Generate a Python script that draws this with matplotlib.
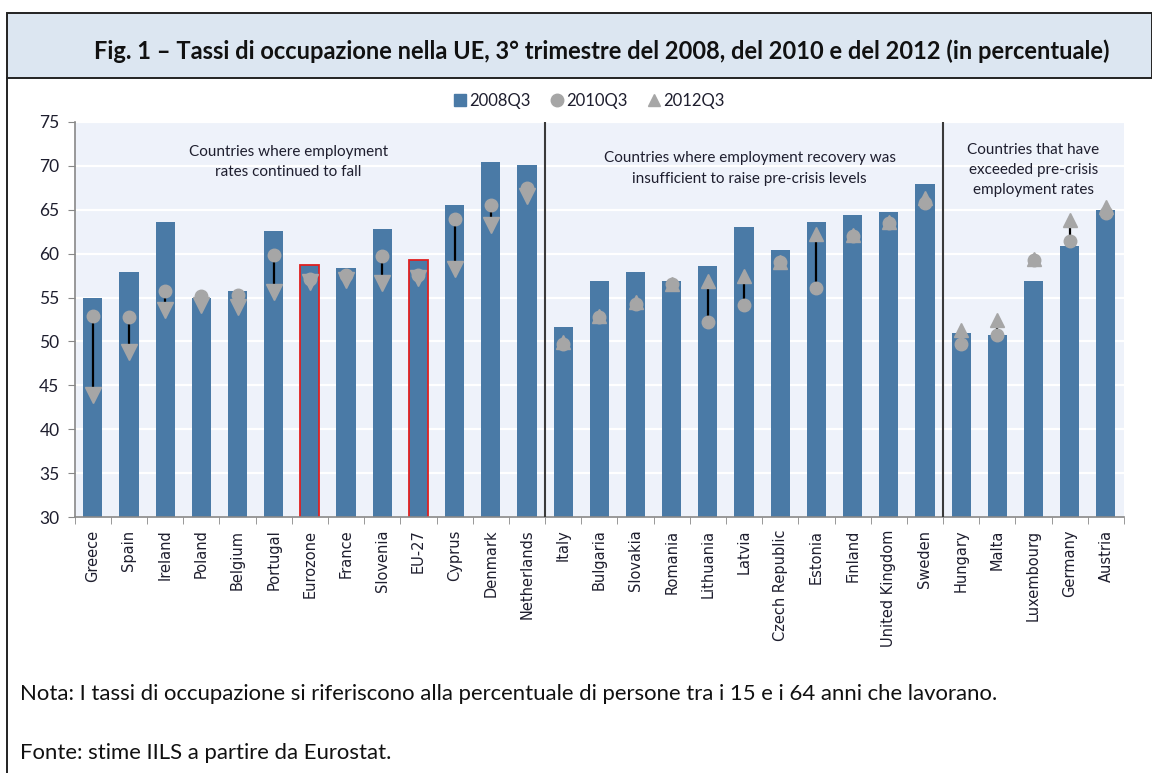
import matplotlib

matplotlib.use("Agg")
import matplotlib.pyplot as plt
from matplotlib.lines import Line2D
from matplotlib.patches import Rectangle

# employment rates, 15-64, by country (percent)
countries = [
    "Greece", "Spain", "Ireland", "Poland", "Belgium", "Portugal", "Eurozone",
    "France", "Slovenia", "EU-27", "Cyprus", "Denmark", "Netherlands",
    "Italy", "Bulgaria", "Slovakia", "Romania", "Lithuania", "Latvia",
    "Czech Republic", "Estonia", "Finland", "United Kingdom", "Sweden",
    "Hungary", "Malta", "Luxembourg", "Germany", "Austria",
]
rate_2008 = [
    55.0, 57.9, 63.6, 54.9, 55.8, 62.6, 58.7, 58.4, 62.8, 59.25, 65.5, 70.4, 70.1,
    51.7, 56.9, 57.9, 56.9, 58.6, 63.0, 60.4, 63.6, 64.4, 64.8, 67.9,
    50.95, 50.7, 56.9, 60.9, 65.0,
]
rate_2010 = [
    52.9, 52.8, 55.7, 55.2, 55.3, 59.9, 57.1, 57.6, 59.7, 57.6, 64.0, 65.5, 67.5,
    49.75, 52.8, 54.3, 56.5, 52.2, 54.2, 59.0, 56.1, 62.0, 63.5, 65.8,
    49.75, 50.7, 59.25, 61.5, 64.6,
]
rate_2012 = [
    43.9, 48.8, 53.6, 54.1, 53.9, 55.6, 56.8, 57.0, 56.7, 57.2, 58.3, 63.3, 66.6,
    49.9, 52.9, 54.5, 56.6, 56.85, 57.45, 59.1, 62.2, 62.1, 63.6, 66.35,
    51.3, 52.4, 59.4, 63.8, 65.3,
]
highlighted = ["Eurozone", "EU-27"]
group_sizes = [13, 11, 5]
group_notes = [
    "Countries where employment\nrates continued to fall",
    "Countries where employment recovery was\ninsufficient to raise pre-crisis levels",
    "Countries that have\nexceeded pre-crisis\nemployment rates",
]

BAR = "#4a7aa6"
MARK = "#a6a6a6"
TXT = "#1e1e2e"
UI = "Lato"

fig = plt.figure(figsize=(11.52, 7.73), dpi=100)

# header band and frame
fig.patches.append(Rectangle((7 / 1152, 1 - 78 / 773), 1 - 7 / 1152, 65 / 773,
                             transform=fig.transFigure, facecolor="#dce6f1",
                             edgecolor="#222222", linewidth=1.4, zorder=0))
fig.add_artist(Line2D([7 / 1152, 7 / 1152], [0, 1 - 78 / 773],
                      transform=fig.transFigure, color="#222222", linewidth=1.4))
fig.text(0.5226, 1 - 51 / 773,
         "Fig. 1 \u2013 Tassi di occupazione nella UE, 3\u00b0 trimestre del 2008, "
         "del 2010 e del 2012 (in percentuale)",
         ha="center", va="center", fontsize=17, fontweight="bold",
         family=UI, color="#111111")

ax = fig.add_axes([74.7 / 1152, 1 - 517 / 773, (1124 - 74.7) / 1152, 395 / 773])
ax.set_facecolor("#eef2fa")

x = list(range(len(countries)))
edges = ["#e02020" if c in highlighted else BAR for c in countries]
widths = [1.3 if c in highlighted else 0 for c in countries]
ax.bar(x, rate_2008, width=0.53, color=BAR, edgecolor=edges,
       linewidth=widths, zorder=2)

ax.vlines(x, rate_2010, rate_2012, color="black", linewidth=1.6, zorder=3)
ax.plot(x, rate_2010, "o", color=MARK, markersize=9, zorder=4)

n_fall = group_sizes[0]
ax.plot(x[:n_fall], rate_2012[:n_fall], "v", color=MARK, markersize=11,
        zorder=4)
ax.plot(x[n_fall:], rate_2012[n_fall:], "^", color=MARK, markersize=10,
        zorder=4)

# group separators and notes
start = 0
note_pos = [(5.4, 70.4), (18.15, 69.7), (26.0, 69.5)]
for size, note, (nx, ny) in zip(group_sizes, group_notes, note_pos):
    end = start + size
    if end < len(countries):
        ax.axvline(end - 0.5, color="#3a3a3a", linewidth=1.5, zorder=5)
    ax.text(nx, ny, note, ha="center", va="center",
            fontsize=11, family=UI, color=TXT, linespacing=1.55, zorder=6)
    start = end

ax.set_ylim(30, 75)
ax.set_xlim(-0.5, len(countries) - 0.5)
ax.set_yticks(range(30, 80, 5))
ax.yaxis.grid(True, color="white", linewidth=1.6)
ax.set_axisbelow(True)

ax.set_xticks(x)
ax.set_xticklabels(countries, rotation=90, fontsize=10.5, color=TXT)
ax.set_xticks([i - 0.5 for i in range(len(countries) + 1)], minor=True)
ax.tick_params(axis="x", which="major", length=0, pad=9)
ax.tick_params(axis="x", which="minor", length=5, color="#888888")
ax.tick_params(axis="y", length=5, color="#888888", labelsize=12.5,
               labelcolor=TXT, pad=6)
for lab in ax.get_yticklabels():
    lab.set_family(UI)
for side in ["top", "right"]:
    ax.spines[side].set_visible(False)
for side in ["left", "bottom"]:
    ax.spines[side].set_color("#888888")
    ax.spines[side].set_linewidth(1.2)

handles = [
    Line2D([], [], marker="s", linestyle="none", color=BAR, markersize=9),
    Line2D([], [], marker="o", linestyle="none", color=MARK, markersize=9),
    Line2D([], [], marker="^", linestyle="none", color=MARK, markersize=9),
]
fig.legend(handles, ["2008Q3", "2010Q3", "2012Q3"], loc="center",
           bbox_to_anchor=(589 / 1152, 1 - 101 / 773), ncol=3, frameon=False,
           handlelength=0.8, handletextpad=0.15, columnspacing=1.2,
           prop={"family": UI, "size": 12}, labelcolor=TXT)

fig.text(20 / 1152, 1 - 694 / 773,
         "Nota: I tassi di occupazione si riferiscono alla percentuale di persone "
         "tra i 15 e i 64 anni che lavorano.",
         ha="left", va="center", fontsize=15.9, family=UI, color="#111111")
fig.text(20 / 1152, 1 - 753 / 773,
         "Fonte: stime IILS a partire da Eurostat.",
         ha="left", va="center", fontsize=15.9, family=UI, color="#111111")

fig.savefig("out.png", dpi=100)
